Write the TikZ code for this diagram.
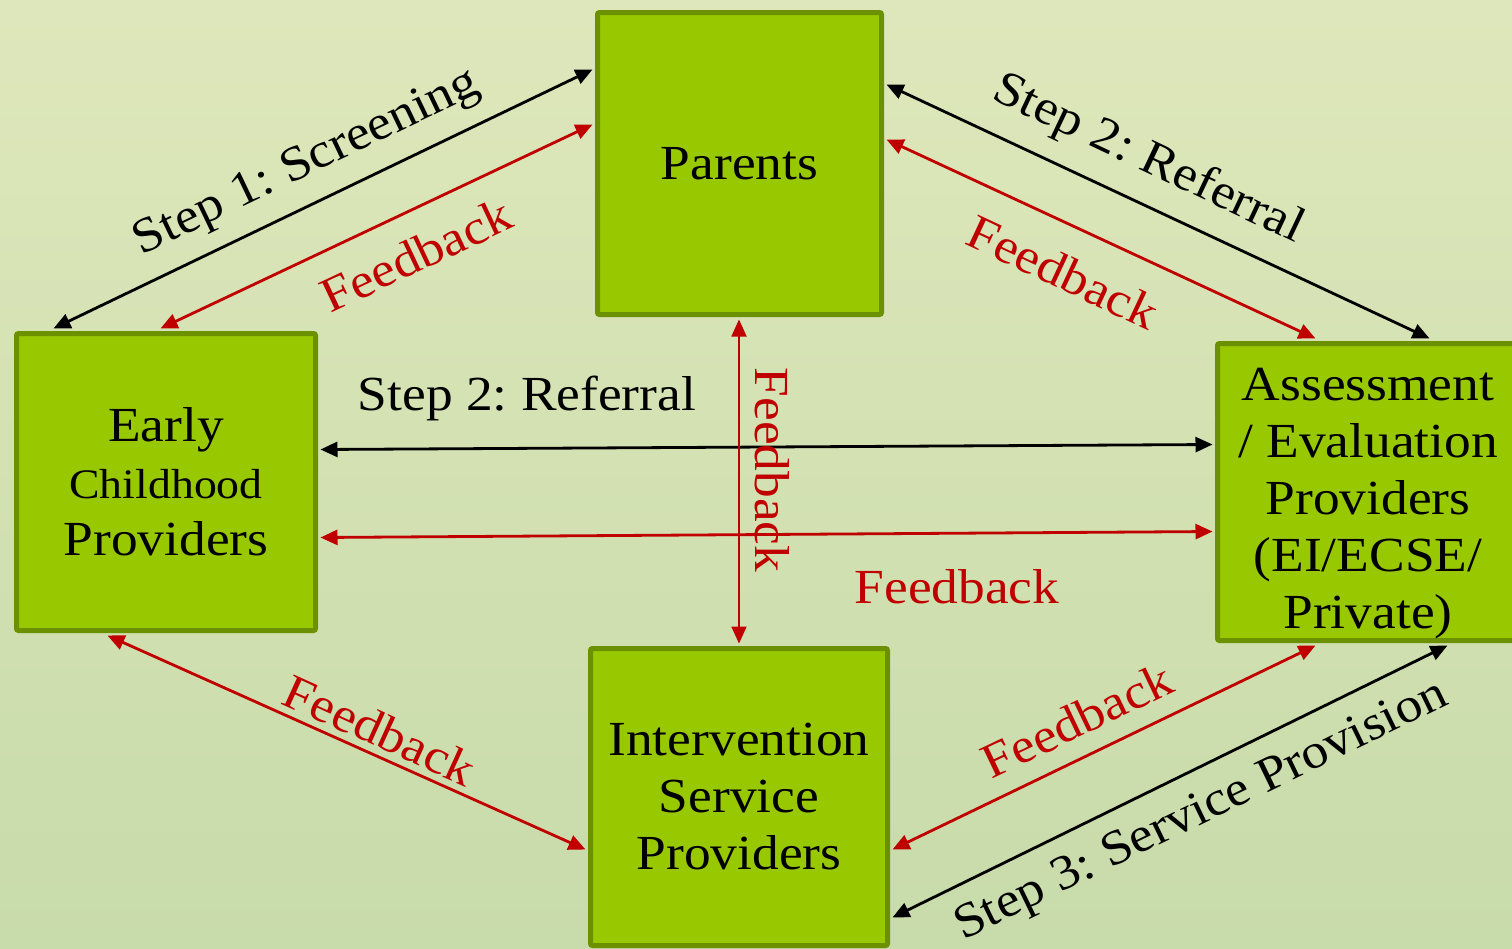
\documentclass[tikz,border=0pt]{standalone}
\usepackage{fontspec}
\setmainfont{Liberation Serif}[FakeStretch=1.09]
\usetikzlibrary{arrows.meta}
\frenchspacing
\definecolor{bgtop}{RGB}{222,231,187}
\definecolor{bgbot}{RGB}{200,219,170}
\definecolor{boxfill}{RGB}{151,200,0}
\definecolor{boxline}{RGB}{107,145,0}
\definecolor{fbred}{RGB}{192,0,0}
\tikzset{
  gbox/.style={draw=boxline, fill=boxfill, line width=5pt, rounded corners=2pt,
    inner sep=0pt, align=center, font=\fontsize{49}{57}\selectfont},
  tipboth/.style={{Triangle[length=17pt,width=15pt]}-{Triangle[length=17pt,width=15pt]}},
  blk/.style={draw=black, line width=2.8pt, tipboth},
  redarr/.style={draw=fbred, line width=2.8pt, tipboth},
  lbl/.style={inner sep=0pt, font=\fontsize{49}{57}\selectfont},
  rlbl/.style={lbl, text=fbred},
}
\begin{document}
\begin{tikzpicture}[x=1pt,y=-1pt]
\useasboundingbox (0,0) rectangle (1512,948);
\clip (0,0) rectangle (1512,948);
\shade[top color=bgtop, bottom color=bgbot] (-1,-1) rectangle (1513,949);

% boxes
\node[gbox, minimum width=284pt, minimum height=302pt] (par) at (739.5,163.5) {Parents};
\node[gbox, minimum width=299pt, minimum height=297pt] (ecp) at (166,482)
  {Early\\{\fontsize{42}{57}\selectfont Childhood}\\Providers};
\node[gbox, minimum width=299pt, minimum height=297pt] (aep) at (1367,492) {};
\node[lbl, align=center] (aept) at (1368,504)
  {Assessment\\/ Evaluation\\Providers\\(EI/ECSE/\\Private)};
\node[gbox, minimum width=297pt, minimum height=297pt] (isp) at (739,797)
  {Intervention\\Service\\Providers};

% connectors
\draw[blk] ([shift={(39.5,-2.5)}]ecp.north west) -- ([shift={(-2.5,59.5)}]par.north west);
\draw[redarr] ([shift={(146.5,-2.5)}]ecp.north west) -- ([shift={(-2.5,114.5)}]par.north west);
\draw[blk] ([shift={(2.5,74.5)}]par.north east) -- ([shift={(214.5,-2.5)}]aep.north west);
\draw[redarr] ([shift={(2.5,129.5)}]par.north east) -- ([shift={(100.5,-2.5)}]aep.north west);
\draw[blk] ([shift={(2.5,118.5)}]ecp.north east) -- ([shift={(-2.5,103.5)}]aep.north west);
\draw[redarr] ([shift={(2.5,206.5)}]ecp.north east) -- ([shift={(-2.5,190.5)}]aep.north west);
\draw[redarr, line width=1.8pt] ([shift={(-0.5,2.5)}]par.south) -- ([shift={(0,-2.5)}]isp.north);
\draw[redarr] ([shift={(93.5,2.5)}]ecp.south west) -- ([shift={(-2.5,203.5)}]isp.north west);
\draw[redarr] ([shift={(100.5,2.5)}]aep.south west) -- ([shift={(2.5,203.5)}]isp.north east);
\draw[blk] ([shift={(232.5,2.5)}]aep.south west) -- ([shift={(2.5,271.5)}]isp.north east);

% labels
\node[lbl, rotate=25.6] (l1) at (307,164) {Step 1: Screening};
\node[rlbl, rotate=25.2] (l2) at (416,255) {Feedback};
\node[lbl, rotate=-25.3] (l3) at (1148,160) {Step 2: Referral};
\node[rlbl, rotate=-25] (l4) at (1063,272) {Feedback};
\node[lbl] (l5) at (527,398) {Step 2: Referral};
\node[rlbl, rotate=-90] (l6) at (772,470) {Feedback};
\node[rlbl] (l7) at (957,587) {Feedback};
\node[rlbl, rotate=-24.4] (l8) at (380,730) {Feedback};
\node[rlbl, rotate=25.5] (l9) at (1077,720) {Feedback};
\node[lbl, rotate=25.9] (l10) at (1202,812) {Step 3: Service Provision};
\end{tikzpicture}
\end{document}
